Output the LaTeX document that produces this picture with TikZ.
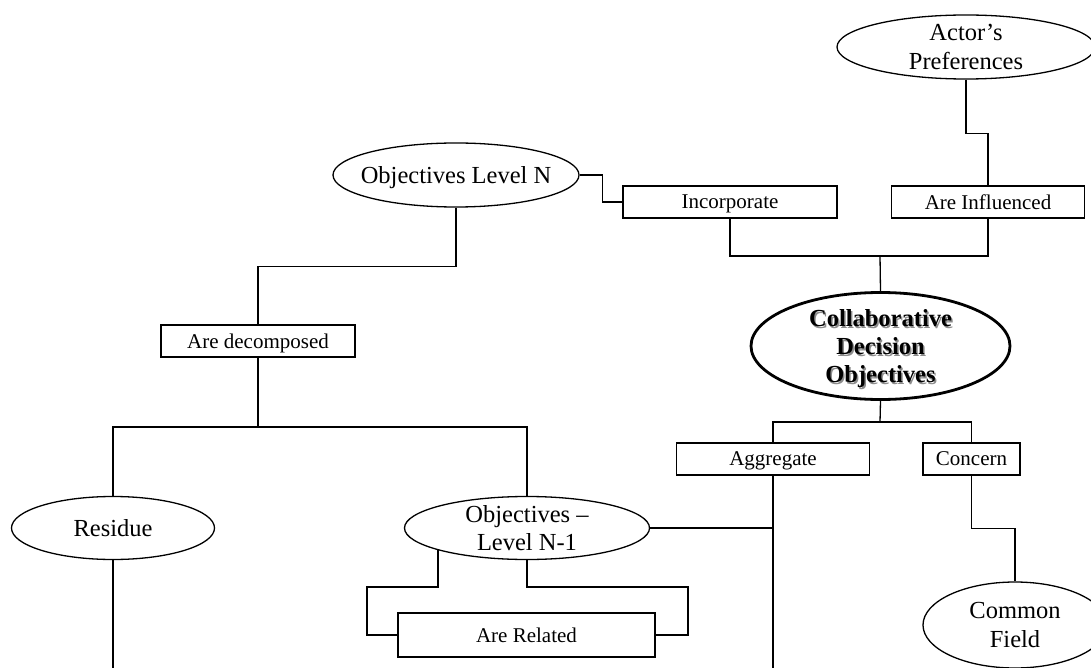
\documentclass[tikz,border=0pt]{standalone}
\usepackage{fontspec}
\setmainfont{Liberation Serif}
\usetikzlibrary{shapes.geometric,calc}
\begin{document}
\begin{tikzpicture}[x=1pt,y=-1pt,line width=1.3pt,
  ell/.style={ellipse,draw,inner sep=-45pt,align=center,text depth=0pt,
    font=\fontsize{24.5}{28.5}\selectfont},
  box/.style={rectangle,draw,inner sep=0pt,minimum height=32pt,text depth=0pt,
    font=\fontsize{21}{24}\selectfont},
  conn/.style={line width=1.3pt}]
\useasboundingbox (0,0) rectangle (1091,668);

% nodes
\node[ell,minimum width=258,minimum height=64] (actor) at (966,47) {Actor’s\\Preferences};
\node[ell,minimum width=246,minimum height=64] (objN) at (456,175) {Objectives Level N};
\node[box,minimum width=214] (incorporate) at (730,202) {Incorporate};
\node[box,minimum width=193] (influenced) at (988,202) {Are Influenced};
\node[align=center,text=black!45,inner sep=0pt,text depth=0pt,
  font=\fontsize{24.5}{28}\selectfont\bfseries] (cdoshadow) at (882,348)
  {Collaborative\\Decision\\Objectives};
\node[ell,line width=2.8pt,minimum width=259,minimum height=107,
  font=\fontsize{24.5}{28}\selectfont\bfseries] (cdo) at (880.5,346)
  {Collaborative\\Decision\\Objectives};
\node[box,minimum width=194] (decomposed) at (258,341) {Are decomposed};
\node[box,minimum width=193] (aggregate) at (773,459) {Aggregate};
\node[box,minimum width=97] (concern) at (971.5,459) {Concern};
\node[ell,minimum width=203,minimum height=63] (residue) at (113,528) {Residue};
\node[ell,minimum width=245,minimum height=63] (objN1) at (527,528) {Objectives –\\Level N-1};
\node[box,minimum width=257,minimum height=44] (related) at (526.5,635) {Are Related};
\node[ell,minimum width=184,minimum height=86] (common) at (1015,625) {Common\\Field};

% junction coordinates
\coordinate (topjoin) at (880,256);
\coordinate (midjoin) at (258,427);
\coordinate (botjoin) at (880,422);
\coordinate (resend) at (113,670);
\coordinate (aggend) at (773,670);

% connectors
\draw[conn] (actor.south) -- ++(0,54) -| (influenced.north);
\draw[conn] (objN.east) -- ++(23,0) |- (incorporate.west);
\draw[conn] (incorporate.south) |- (topjoin) -| (influenced.south);
\draw[conn] (topjoin) -- (cdo.north);
\draw[conn] (objN.south) -- ++(0,59) -| (decomposed.north);
\draw[conn] (decomposed.south) -- (midjoin);
\draw[conn] (residue.north) |- (midjoin) -| (objN1.north);
\draw[conn] (residue.south) -- (resend);
\draw[conn] (cdo.south) -- (botjoin);
\draw[conn] (aggregate.north) |- (botjoin) -| (concern.north);
\draw[conn] (aggregate.south) -- (aggend);
\draw[conn] (objN1.east) -- (objN1.east -| aggregate.south);
\draw[conn] (concern.south) -- ++(0,53) -| (common.north);
\draw[conn] (objN1.194) |- (367,587) |- (related.west);
\draw[conn] (objN1.south) |- (688,587) |- (related.east);
\end{tikzpicture}
\end{document}
